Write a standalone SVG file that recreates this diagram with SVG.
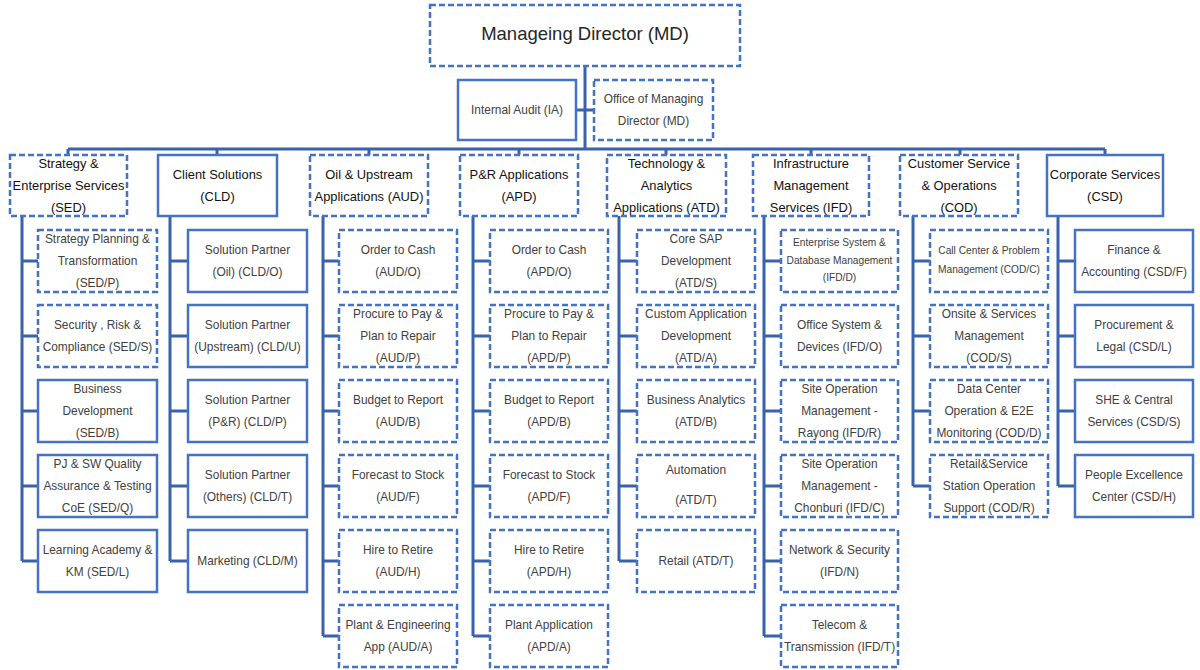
<svg xmlns="http://www.w3.org/2000/svg" width="1200" height="670" viewBox="0 0 1200 670">
<style>
.b{fill:#fff;stroke:#4472C4;stroke-width:2.5}
.d{stroke-dasharray:6 3}
.c{fill:none;stroke:#3A62AC;stroke-width:3}
text{font-family:"Liberation Sans",Arial,sans-serif;text-anchor:middle}
.t{font-size:11.9px;fill:#404040}
.s{font-size:10.2px;fill:#404040}
.h{font-size:12.9px;fill:#111}
.m{font-size:18.5px;fill:#262626}
</style>
<rect width="1200" height="670" fill="#fff"/>
<g id="connectors" class="c">
<path d="M585 66V149M576 110H594M68 149H1105M68 149V155M217 149V155M369 149V155M519 149V155M666 149V155M811 149V155M960 149V155M1105 149V155"/>
<path d="M22 216V561M22 261H38M22 336H38M22 411H38M22 486H38M22 561H38"/>
<path d="M170 216V561M170 261H188M170 336H188M170 411H188M170 486H188M170 561H188"/>
<path d="M323 216V636M323 261H339M323 336H339M323 411H339M323 486H339M323 561H339M323 636H339"/>
<path d="M473 216V636M473 261H490M473 336H490M473 411H490M473 486H490M473 561H490M473 636H490"/>
<path d="M619 216V561M619 261H637M619 336H637M619 411H637M619 486H637M619 561H637"/>
<path d="M764 216V636M764 261H781M764 336H781M764 411H781M764 486H781M764 561H781M764 636H781"/>
<path d="M913 216V486M913 261H930M913 336H930M913 411H930M913 486H930"/>
<path d="M1058 216V486M1058 261H1075M1058 336H1075M1058 411H1075M1058 486H1075"/>
</g>
<g id="md"><rect class="b d" x="430" y="5" width="310" height="61"/><text class="m" x="585" y="40">Manageing Director (MD)</text></g>
<g id="ia"><rect class="b" x="458" y="80" width="118" height="60"/><text class="t" x="517" y="114">Internal Audit (IA)</text></g>
<g id="omd"><rect class="b d" x="594" y="80" width="119" height="60"/><text class="t" x="653.5" y="103">Office of Managing<tspan x="653.5" y="125">Director (MD)</tspan></text></g>

<g id="sed"><rect class="b d" x="10" y="155" width="117" height="61"/><text class="h" x="68.5" y="168">Strategy &amp;<tspan x="68.5" y="190">Enterprise Services</tspan><tspan x="68.5" y="212">(SED)</tspan></text></g>
<g id="cld"><rect class="b" x="158" y="155" width="119" height="61"/><text class="h" x="217.5" y="179">Client Solutions<tspan x="217.5" y="201">(CLD)</tspan></text></g>
<g id="aud"><rect class="b d" x="310" y="155" width="118" height="61"/><text class="h" x="369" y="179">Oil &amp; Upstream<tspan x="369" y="201">Applications (AUD)</tspan></text></g>
<g id="apd"><rect class="b d" x="460" y="155" width="118" height="61"/><text class="h" x="519" y="179">P&amp;R Applications<tspan x="519" y="201">(APD)</tspan></text></g>
<g id="atd"><rect class="b d" x="607" y="155" width="119" height="61"/><text class="h" x="666.5" y="168">Technology &amp;<tspan x="666.5" y="190">Analytics</tspan><tspan x="666.5" y="212">Applications (ATD)</tspan></text></g>
<g id="ifd"><rect class="b d" x="753" y="155" width="116" height="61"/><text class="h" x="811" y="168">Infrastructure<tspan x="811" y="190">Management</tspan><tspan x="811" y="212">Services (IFD)</tspan></text></g>
<g id="cod"><rect class="b d" x="900" y="155" width="118" height="61"/><text class="h" x="959" y="168">Customer Service<tspan x="959" y="190">&amp; Operations</tspan><tspan x="959" y="212">(COD)</tspan></text></g>
<g id="csd"><rect class="b" x="1047" y="155" width="116" height="61"/><text class="h" x="1105" y="179">Corporate Services<tspan x="1105" y="201">(CSD)</tspan></text></g>

<g id="sed-p"><rect class="b d" x="38" y="230" width="119" height="62"/><text class="t" x="97.5" y="242.5">Strategy Planning &amp;<tspan x="97.5" y="264.5">Transformation</tspan><tspan x="97.5" y="286.5">(SED/P)</tspan></text></g>
<g id="sed-s"><rect class="b d" x="38" y="305" width="119" height="62"/><text class="t" x="97.5" y="328.5">Security , Risk &amp;<tspan x="97.5" y="350.5">Compliance (SED/S)</tspan></text></g>
<g id="sed-b"><rect class="b" x="38" y="380" width="119" height="62"/><text class="t" x="97.5" y="392.5">Business<tspan x="97.5" y="414.5">Development</tspan><tspan x="97.5" y="436.5">(SED/B)</tspan></text></g>
<g id="sed-q"><rect class="b" x="38" y="455" width="119" height="62"/><text class="t" x="97.5" y="467.5">PJ &amp; SW Quality<tspan x="97.5" y="489.5">Assurance &amp; Testing</tspan><tspan x="97.5" y="511.5">CoE (SED/Q)</tspan></text></g>
<g id="sed-l"><rect class="b" x="38" y="530" width="119" height="62"/><text class="t" x="97.5" y="553.5">Learning Academy &amp;<tspan x="97.5" y="575.5">KM (SED/L)</tspan></text></g>

<g id="cld-o"><rect class="b" x="188" y="230" width="119" height="62"/><text class="t" x="247.5" y="253.5">Solution Partner<tspan x="247.5" y="275.5">(Oil) (CLD/O)</tspan></text></g>
<g id="cld-u"><rect class="b" x="188" y="305" width="119" height="62"/><text class="t" x="247.5" y="328.5">Solution Partner<tspan x="247.5" y="350.5">(Upstream) (CLD/U)</tspan></text></g>
<g id="cld-p"><rect class="b" x="188" y="380" width="119" height="62"/><text class="t" x="247.5" y="403.5">Solution Partner<tspan x="247.5" y="425.5">(P&amp;R) (CLD/P)</tspan></text></g>
<g id="cld-t"><rect class="b" x="188" y="455" width="119" height="62"/><text class="t" x="247.5" y="478.5">Solution Partner<tspan x="247.5" y="500.5">(Others) (CLD/T)</tspan></text></g>
<g id="cld-m"><rect class="b" x="188" y="530" width="119" height="62"/><text class="t" x="247.5" y="564.5">Marketing (CLD/M)</text></g>

<g id="aud-o"><rect class="b d" x="339" y="230" width="118" height="62"/><text class="t" x="398" y="253.5">Order to Cash<tspan x="398" y="275.5">(AUD/O)</tspan></text></g>
<g id="aud-p"><rect class="b d" x="339" y="305" width="118" height="62"/><text class="t" x="398" y="317.5">Procure to Pay &amp;<tspan x="398" y="339.5">Plan to Repair</tspan><tspan x="398" y="361.5">(AUD/P)</tspan></text></g>
<g id="aud-b"><rect class="b d" x="339" y="380" width="118" height="62"/><text class="t" x="398" y="403.5">Budget to Report<tspan x="398" y="425.5">(AUD/B)</tspan></text></g>
<g id="aud-f"><rect class="b d" x="339" y="455" width="118" height="62"/><text class="t" x="398" y="478.5">Forecast to Stock<tspan x="398" y="500.5">(AUD/F)</tspan></text></g>
<g id="aud-h"><rect class="b d" x="339" y="530" width="118" height="62"/><text class="t" x="398" y="553.5">Hire to Retire<tspan x="398" y="575.5">(AUD/H)</tspan></text></g>
<g id="aud-a"><rect class="b d" x="339" y="605" width="118" height="62"/><text class="t" x="398" y="628.5">Plant &amp; Engineering<tspan x="398" y="650.5">App (AUD/A)</tspan></text></g>

<g id="apd-o"><rect class="b d" x="490" y="230" width="118" height="62"/><text class="t" x="549" y="253.5">Order to Cash<tspan x="549" y="275.5">(APD/O)</tspan></text></g>
<g id="apd-p"><rect class="b d" x="490" y="305" width="118" height="62"/><text class="t" x="549" y="317.5">Procure to Pay &amp;<tspan x="549" y="339.5">Plan to Repair</tspan><tspan x="549" y="361.5">(APD/P)</tspan></text></g>
<g id="apd-b"><rect class="b d" x="490" y="380" width="118" height="62"/><text class="t" x="549" y="403.5">Budget to Report<tspan x="549" y="425.5">(APD/B)</tspan></text></g>
<g id="apd-f"><rect class="b d" x="490" y="455" width="118" height="62"/><text class="t" x="549" y="478.5">Forecast to Stock<tspan x="549" y="500.5">(APD/F)</tspan></text></g>
<g id="apd-h"><rect class="b d" x="490" y="530" width="118" height="62"/><text class="t" x="549" y="553.5">Hire to Retire<tspan x="549" y="575.5">(APD/H)</tspan></text></g>
<g id="apd-a"><rect class="b d" x="490" y="605" width="118" height="62"/><text class="t" x="549" y="628.5">Plant Application<tspan x="549" y="650.5">(APD/A)</tspan></text></g>

<g id="atd-s"><rect class="b d" x="637" y="230" width="118" height="62"/><text class="t" x="696" y="242.5">Core SAP<tspan x="696" y="264.5">Development</tspan><tspan x="696" y="286.5">(ATD/S)</tspan></text></g>
<g id="atd-a"><rect class="b d" x="637" y="305" width="118" height="62"/><text class="t" x="696" y="317.5">Custom Application<tspan x="696" y="339.5">Development</tspan><tspan x="696" y="361.5">(ATD/A)</tspan></text></g>
<g id="atd-b"><rect class="b d" x="637" y="380" width="118" height="62"/><text class="t" x="696" y="403.5">Business Analytics<tspan x="696" y="425.5">(ATD/B)</tspan></text></g>
<g id="atd-t"><rect class="b d" x="637" y="455" width="118" height="62"/><text class="t" x="696" y="474">Automation<tspan x="696" y="504">(ATD/T)</tspan></text></g>
<g id="atd-r"><rect class="b d" x="637" y="530" width="118" height="62"/><text class="t" x="696" y="564.5">Retail (ATD/T)</text></g>

<g id="ifd-d"><rect class="b d" x="781" y="230" width="117" height="62"/><text class="s" x="839.5" y="245.5">Enterprise System &amp;<tspan x="839.5" y="263.5">Database Management</tspan><tspan x="839.5" y="280.5">(IFD/D)</tspan></text></g>
<g id="ifd-o"><rect class="b d" x="781" y="305" width="117" height="62"/><text class="t" x="839.5" y="328.5">Office System &amp;<tspan x="839.5" y="350.5">Devices (IFD/O)</tspan></text></g>
<g id="ifd-r"><rect class="b d" x="781" y="380" width="117" height="62"/><text class="t" x="839.5" y="392.5">Site Operation<tspan x="839.5" y="414.5">Management -</tspan><tspan x="839.5" y="436.5">Rayong (IFD/R)</tspan></text></g>
<g id="ifd-c"><rect class="b d" x="781" y="455" width="117" height="62"/><text class="t" x="839.5" y="467.5">Site Operation<tspan x="839.5" y="489.5">Management -</tspan><tspan x="839.5" y="511.5">Chonburi (IFD/C)</tspan></text></g>
<g id="ifd-n"><rect class="b d" x="781" y="530" width="117" height="62"/><text class="t" x="839.5" y="553.5">Network &amp; Security<tspan x="839.5" y="575.5">(IFD/N)</tspan></text></g>
<g id="ifd-t"><rect class="b d" x="781" y="605" width="117" height="62"/><text class="t" x="839.5" y="628.5">Telecom &amp;<tspan x="839.5" y="650.5">Transmission (IFD/T)</tspan></text></g>

<g id="cod-c"><rect class="b d" x="930" y="230" width="118" height="62"/><text class="s" x="989" y="253.5">Call Center &amp; Problem<tspan x="989" y="272.5">Management (COD/C)</tspan></text></g>
<g id="cod-s"><rect class="b d" x="930" y="305" width="118" height="62"/><text class="t" x="989" y="317.5">Onsite &amp; Services<tspan x="989" y="339.5">Management</tspan><tspan x="989" y="361.5">(COD/S)</tspan></text></g>
<g id="cod-d"><rect class="b d" x="930" y="380" width="118" height="62"/><text class="t" x="989" y="392.5">Data Center<tspan x="989" y="414.5">Operation &amp; E2E</tspan><tspan x="989" y="436.5">Monitoring (COD/D)</tspan></text></g>
<g id="cod-r"><rect class="b d" x="930" y="455" width="118" height="62"/><text class="t" x="989" y="467.5">Retail&amp;Service<tspan x="989" y="489.5">Station Operation</tspan><tspan x="989" y="511.5">Support (COD/R)</tspan></text></g>

<g id="csd-f"><rect class="b" x="1075" y="230" width="118" height="62"/><text class="t" x="1134" y="253.5">Finance &amp;<tspan x="1134" y="275.5">Accounting (CSD/F)</tspan></text></g>
<g id="csd-l"><rect class="b" x="1075" y="305" width="118" height="62"/><text class="t" x="1134" y="328.5">Procurement &amp;<tspan x="1134" y="350.5">Legal (CSD/L)</tspan></text></g>
<g id="csd-s"><rect class="b" x="1075" y="380" width="118" height="62"/><text class="t" x="1134" y="403.5">SHE &amp; Central<tspan x="1134" y="425.5">Services (CSD/S)</tspan></text></g>
<g id="csd-h"><rect class="b" x="1075" y="455" width="118" height="62"/><text class="t" x="1134" y="478.5">People Excellence<tspan x="1134" y="500.5">Center (CSD/H)</tspan></text></g>
</svg>
